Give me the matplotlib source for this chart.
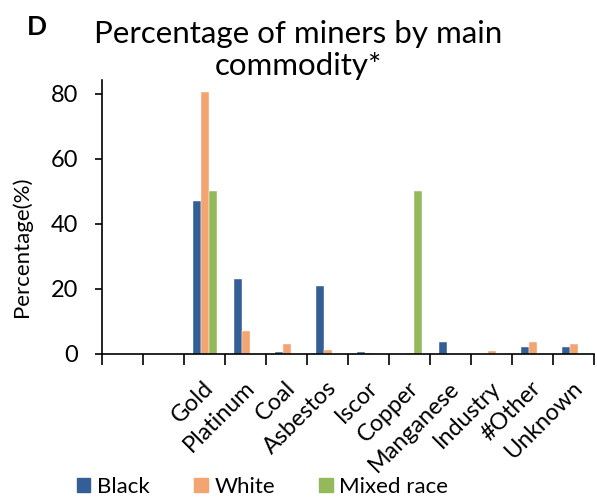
import matplotlib.pyplot as plt
import numpy as np
from matplotlib.patches import Patch

plt.rcParams["font.family"] = ["Lato", "DejaVu Sans"]

# main commodity categories (two blank slots lead the axis)
categories = ["", "", "Gold", "Platinum", "Coal", "Asbestos", "Iscor", "Copper",
              "Manganese", "Industry", "#Other", "Unknown"]
black = [0, 0, 47, 23, 0.6, 21, 0.7, 0, 3.5, 0, 2, 2]
white = [0, 0, 80.5, 7, 3, 1.2, 0.4, 0.3, 0, 0.8, 3.7, 3]
mixed = [0, 0, 50, 0, 0, 0, 0, 50, 0, 0, 0, 0]

series = [("Black", black, "#335E96"),
          ("White", white, "#F3A470"),
          ("Mixed race", mixed, "#94B95A")]

fig = plt.figure(figsize=(5.97, 4.97), dpi=100)
ax = fig.add_axes([0.171, 0.288, 0.824, 0.551])

x = np.arange(len(categories))
width = 0.195
for i, (name, vals, color) in enumerate(series):
    ax.bar(x + (i - 1) * width, vals, width, color=color,
           edgecolor="white", linewidth=0.3, label=name)

ax.set_xlim(-0.5, len(categories) - 0.5)
ax.set_ylim(0, 84.3)
ax.set_yticks([0, 20, 40, 60, 80])
ax.tick_params(axis="y", labelsize=17, length=5, width=1.2, direction="out", pad=12)

# category boundary ticks below the axis, labels at the centres
ax.set_xticks(np.arange(len(categories) + 1) - 0.5, minor=False)
ax.set_xticklabels([])
ax.tick_params(axis="x", length=8, width=1.2, direction="out")
for xi, lab in zip(x, categories):
    ax.text(xi - 0.05, -7.2, lab, rotation=45, ha="right", va="top",
            rotation_mode="anchor", fontsize=16.8, transform=ax.transData)

for side in ["top", "right"]:
    ax.spines[side].set_visible(False)
ax.spines["left"].set_linewidth(1.2)
ax.spines["bottom"].set_linewidth(1.2)

ax.set_ylabel("Percentage(%)", fontsize=16)
ax.yaxis.set_label_coords(-0.142, 0.39)

fig.text(0.5, 0.899, "Percentage of miners by main\ncommodity*", ha="center",
         va="center", fontsize=22.5, linespacing=1.15)
fig.text(0.062, 0.946, "D", fontsize=19, fontweight="bold", ha="center", va="center")

handles = [Patch(color=c, label=n) for n, _, c in series]
fig.legend(handles=handles, loc="lower center", bbox_to_anchor=(0.44, -0.04),
           ncol=3, frameon=False, fontsize=16, handlelength=0.6,
           handleheight=0.6, columnspacing=2.0, handletextpad=0.3)

fig.savefig("out.png", dpi=100)
